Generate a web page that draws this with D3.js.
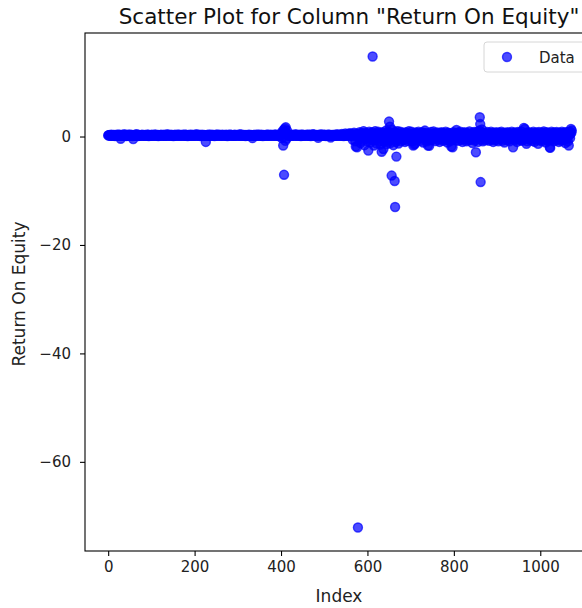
<!DOCTYPE html>
<html><head><meta charset="utf-8">
<script src="https://cdn.jsdelivr.net/npm/d3@7"></script>
<style>body{margin:0;background:#fff}svg{display:block;font-family:"DejaVu Sans",sans-serif}</style>
</head><body><svg id="c" width="582" height="608"></svg>
<script>
// Return On Equity values, one per row index (0..1073)
const valuesA = [
0.21,0.25,0.18,0.3,0.22,0.15,0.27,0.2,0.33,0.12,0.24,0.19,0.28,0.16,0.31,0.22,0.09,0.26,0.2,0.35,
0.17,0.23,0.29,0.14,0.21,0.38,0.2,0.11,0.25,-0.42,0.18,0.27,0.22,0.3,0.13,0.24,0.19,0.41,0.16,0.23,
0.28,0.2,0.07,0.25,0.32,0.18,0.22,0.15,0.29,0.21,0.36,0.12,0.24,0.19,0.27,0.23,0.1,0.3,-0.48,0.2,
0.26,0.17,0.33,0.21,0.14,0.25,0.45,0.19,0.23,0.08,0.28,0.22,0.16,0.3,0.2,0.24,0.13,0.27,0.21,0.34,
0.18,0.25,0.11,0.29,0.22,0.16,0.31,0.2,0.26,0.14,0.23,0.37,0.19,0.28,0.1,0.24,0.21,0.3,0.15,0.22,
0.27,0.19,0.33,0.12,0.25,0.2,0.29,0.17,0.23,0.4,0.21,0.14,0.26,0.18,0.31,0.22,0.09,0.28,0.2,0.24,
0.16,0.3,0.22,0.35,0.13,0.25,0.19,0.27,0.21,0.11,0.32,0.18,0.24,0.2,0.29,0.15,0.26,0.43,0.22,0.17,
0.28,0.21,0.12,0.25,0.19,0.34,0.23,0.16,0.3,0.2,0.26,0.08,0.24,0.18,0.32,0.22,0.27,0.14,0.21,0.29,
0.19,0.25,0.38,0.16,0.23,0.28,0.11,0.21,0.3,0.2,0.25,0.17,0.33,0.22,0.13,0.27,0.19,0.24,0.36,0.2,
0.15,0.29,0.22,0.26,0.1,0.31,0.18,0.24,0.21,0.35,0.14,0.27,0.2,0.23,0.32,0.17,0.25,0.12,0.28,0.22,
0.19,0.3,0.16,0.24,0.41,0.21,0.27,0.13,0.25,0.2,0.33,0.18,0.22,0.29,0.09,0.26,0.21,0.34,0.17,0.23,
0.28,0.2,0.14,0.31,0.22,0.25,-1.0,0.19,0.27,0.16,0.3,0.21,0.24,0.12,0.36,0.2,0.26,0.18,0.29,0.23,
0.15,0.32,0.21,0.25,0.19,0.28,0.1,0.24,0.3,0.2,0.17,0.27,0.39,0.22,0.14,0.26,0.21,0.33,0.18,0.24,
0.29,0.12,0.23,0.27,0.2,0.35,0.16,0.25,0.21,0.3,0.13,0.28,0.22,0.19,0.32,0.24,0.08,0.26,0.2,0.29,
0.17,0.23,0.37,0.21,0.26,0.14,0.3,0.19,0.25,0.22,0.11,0.28,0.2,0.34,0.16,0.24,0.27,0.21,0.13,0.31,
0.22,0.26,0.18,0.29,0.2,0.42,0.15,0.24,0.28,0.19,0.33,0.12,0.25,0.21,0.3,0.17,0.23,0.27,0.1,0.26,
0.2,0.31,0.16,0.24,0.28,0.22,0.35,0.13,0.27,0.19,0.25,0.3,0.18,0.23,-0.3,0.21,0.29,0.15,0.26,0.22,
0.33,0.19,0.24,0.11,0.28,0.21,0.26,0.38,0.17,0.23,0.3,0.2,0.14,0.27,0.22,0.32,0.18,0.25,0.09,0.29,
0.21,0.26,0.16,0.31,0.23,0.19,0.28,0.13,0.25,0.36,0.2,0.24,0.29,0.15,0.22,0.27,0.18,0.33,0.21,0.25,
0.12,0.3,0.2,0.26,0.17,0.23,0.4,0.21,0.28,0.14,0.25,0.19,0.32,0.22,0.27,0.1,0.24,0.29,0.18,0.35
];
const valuesB = [
0.26,0.5,-0.3,0.9,0.6,-1.66,1.2,-7.06,0.4,1.5,-0.8,1.7,0.7,-0.4,1.1,0.3,0.2,0.25,0.18,0.3
];
const valuesC = [
0.24,0.19,0.31,0.22,0.15,0.28,0.2,0.35,0.13,0.26,0.21,0.3,0.17,0.24,0.43,0.2,0.27,0.11,0.25,0.22,
0.29,0.16,0.23,0.33,0.19,0.26,0.08,0.28,0.21,0.37,0.14,0.25,0.2,0.31,0.18,0.24,0.27,0.12,0.3,0.22,
0.18,0.26,0.39,0.2,0.24,0.15,0.29,0.22,0.32,0.1,0.25,0.19,0.28,0.23,0.45,0.16,0.27,0.21,0.34,0.2,
0.25,0.13,0.3,0.22,0.18,0.27,-0.25,0.24,0.31,0.19,0.26,0.4,0.15,0.23,0.29,0.2,0.36,0.12,0.25,0.21,
0.28,0.17,0.33,0.22,0.09,0.26,0.2,0.3,0.16,0.24,0.38,0.21,0.27,0.14,0.25,-0.2,0.31,0.19,0.23,0.28,
0.15,0.26,0.21,0.35,0.18,0.24,0.29,0.11,0.27,0.2,0.42,0.23,0.16,0.3,0.22,0.25,0.13,0.33,0.19,0.26,
0.21,0.48,0.17,0.28,0.24,0.1,0.31,0.2,0.26,0.55,0.15,0.23,0.29,0.19,0.36,0.22,0.5,0.27,0.12,0.25,
0.62,0.2,0.3,0.16,0.45,0.24,-0.6,0.28,0.18,0.7,0.33,0.25,-0.9,-1.85,0.2,0.52,-1.97,0.3,-72.1,0.15
];
const valuesD = [
0.3,-0.5,0.8,0.2,-1.2,0.5,0.1,-0.8,0.6,0.25,-0.3,1.0,0.15,-1.6,0.4,0.2,0.7,-0.4,0.3,0.1,
-0.9,0.5,-2.6,0.2,0.9,-0.3,0.35,-1.1,0.6,0.1,-0.5,0.8,14.75,0.25,-0.7,-1.65,0.45,0.1,1.0,-0.2,
0.3,-1.3,0.6,0.15,-0.4,0.9,0.2,-0.8,0.5,0.05,-1.5,0.35,0.7,-2.8,0.2,-0.3,0.8,-2.3,0.1,-1.0,
0.5,0.25,-0.6,1.1,0.3,-1.4,0.6,-0.2,0.9,0.4,2.76,-0.8,1.8,-1.2,0.7,0.1,-7.2,-0.5,1.2,0.3,
-1.6,0.6,-0.3,-8.2,-13.0,0.8,-1.0,-3.7,0.4,-0.6,1.0,0.2,-1.3,0.5,0.1,-0.4,0.9,0.3,-0.9,0.2
];
const valuesE = [
0.4,-0.2,0.7,0.1,-0.6,0.5,0.25,-1.0,0.3,0.8,-0.3,0.15,0.6,-0.8,0.35,0.05,1.0,-0.4,0.2,0.5,
-0.7,0.3,0.9,-0.1,0.45,-0.9,-1.66,0.2,-1.5,0.6,-1.35,0.1,0.75,-0.3,0.35,0.55,-0.6,0.2,0.9,0.05,
-0.4,0.5,0.3,-0.8,0.65,0.15,-0.2,0.8,0.4,-1.1,0.25,0.6,-0.5,1.1,0.2,-0.3,0.7,0.1,-0.9,0.45,
-1.66,0.3,-0.6,-1.7,0.55,0.2,-0.2,0.85,0.1,-0.7,0.4,0.25,-0.4,0.95,0.15,-0.1,0.6,0.3,-0.85,0.5,
0.2,-0.3,0.75,0.05,-0.6,0.45,0.3,-1.0,0.6,0.15,-0.2,0.8,0.35,-0.5,0.25,0.65,-0.8,0.1,0.5,-0.3,
0.4,0.9,-0.6,0.2,0.55,-1.1,0.3,0.7,-0.2,0.15,0.6,-0.9,0.35,0.05,-1.85,0.45,-0.4,-1.97,0.25,0.8,
-0.5,0.3,0.6,-0.1,0.4,-0.7,1.2,0.2,-0.3,0.75,0.1,-0.8,0.5,0.3,-0.2,0.9,0.15,-0.6,0.45,0.25,
-1.0,0.6,0.35,-0.3,0.8,0.1,-0.5,0.5,0.2,-0.9,0.7,0.3,-0.2,0.55,-0.7,0.15,0.95,-0.4,0.4,0.25,
-0.6,0.5,0.1,-1.2,0.7,0.3,-0.3,0.85,0.2,-0.8,0.45,-2.9,0.6,-0.4,0.25,0.9,-1.0,0.35,0.75,1.1,
3.56,2.3,-8.4,0.5,-0.6,1.3,0.2,-0.9,0.4,0.7,-0.3,0.15,0.6,-0.7,0.3,0.5,-0.2,0.85,0.1,-0.5,
0.45,0.25,-0.8,0.65,0.3,-0.3,0.9,0.1,-0.6,0.5,0.35,-1.0,0.7,0.2,-0.4,0.55,0.05,-0.7,0.8,0.3,
-0.2,0.45,0.6,-0.9,0.25,0.75,-0.5,0.15,0.5,-0.3,0.9,0.35,-0.8,0.2,0.6,-0.1,0.4,-1.1,0.7,0.25,
-0.4,0.55,0.1,-0.7,0.8,0.3,-0.2,0.45,0.65,-0.9,0.2,0.5,-0.5,0.35,0.9,-0.3,0.15,-2.0,0.6,0.25,
-0.6,0.75,0.3,-0.2,0.5,0.1,-1.0,0.4,0.85,-0.4,0.2,0.6,-0.7,0.35,0.55,-0.3,0.95,0.15,-0.8,0.45,
0.25,-0.5,1.6,0.3,1.4,-0.2,0.6,0.1,-1.35,0.7,-0.9,0.4,0.2,-0.4,0.8,0.3,-0.6,0.5,0.15,-0.3,
0.65,0.35,-0.8,0.45,0.9,-0.2,0.25,-1.0,0.6,0.1,-0.5,0.75,0.3,-0.3,0.5,-1.35,0.2,0.85,-0.7,0.4,
0.3,-0.4,0.6,0.15,-0.9,0.7,0.25,-0.2,0.95,0.4,-0.6,0.5,0.1,-1.1,0.35,0.8,-0.3,0.2,0.65,-0.8,
0.45,0.3,-2.0,-2.1,0.55,-0.5,0.9,0.2,-0.2,0.6,0.35,-0.9,0.75,0.1,-0.4,0.5,0.3,-0.7,0.85,0.25,
-0.3,0.6,0.15,-1.0,0.45,0.7,-0.5,0.35,0.2,-0.8,0.9,0.3,-0.2,0.55,0.1,-0.6,0.75,0.4,-1.2,0.5,
0.25,-0.4,0.85,0.3,-0.9,0.6,-1.66,0.2,0.95,-0.3,0.5,1.4,0.7,1.1
];
const xTicks = [0, 200, 400, 600, 800, 1000];
const yTicks = [0, -20, -40, -60];
const titleText = 'Scatter Plot for Column "Return On Equity"';
const xLabel = 'Index';
const yLabel = 'Return On Equity';
const seriesName = 'Data';

const values = [].concat(valuesA, valuesB, valuesC, valuesD, valuesE);
const data = values.map((v, i) => ({ i, v }));

const L = 85, T = 33, R = 595, B = 551;
const n = values.length - 1;
const x = d3.scaleLinear().domain([-0.05 * n, 1.05 * n]).range([L, R]);
const [ymin, ymax] = d3.extent(values);
const pad = 0.05 * (ymax - ymin);
const y = d3.scaleLinear().domain([ymin - pad, ymax + pad]).range([B, T]);

const svg = d3.select('#c');
const fs = 15;
const blue = 'rgba(0,0,255,0.7)';

svg.append('g').selectAll('circle').data(data).join('circle')
  .attr('cx', d => x(d.i)).attr('cy', d => y(d.v)).attr('r', 4.5)
  .attr('fill', blue).attr('stroke', blue).attr('stroke-width', 1.39);

const fmt = d3.format('');
const xa = svg.append('g').attr('transform', `translate(0,${B})`)
  .call(d3.axisBottom(x).tickValues(xTicks).tickFormat(fmt).tickSize(5).tickPadding(5));
const ya = svg.append('g').attr('transform', `translate(${L},0)`)
  .call(d3.axisLeft(y).tickValues(yTicks).tickFormat(fmt).tickSize(5).tickPadding(9));
[xa, ya].forEach(a => {
  a.select('.domain').remove();
  a.selectAll('line').attr('stroke', '#000').attr('stroke-width', 1.1);
  a.selectAll('text').attr('fill', '#222').style('font-size', fs + 'px').style('font-family', '"DejaVu Sans",sans-serif');
});

svg.append('rect').attr('x', L).attr('y', T).attr('width', R - L).attr('height', B - T)
  .attr('fill', 'none').attr('stroke', '#000').attr('stroke-width', 1.1);

svg.append('text').attr('x', 349).attr('y', 24).attr('text-anchor', 'middle')
  .style('font-size', '21.5px').attr('fill', '#111').text(titleText);
svg.append('text').attr('x', (L + R) / 2 - 1).attr('y', 602).attr('text-anchor', 'middle')
  .style('font-size', '17px').attr('fill', '#222').text(xLabel);
svg.append('text').attr('transform', `translate(25,${(T + B) / 2 + 2}) rotate(-90)`).attr('text-anchor', 'middle')
  .style('font-size', '17px').attr('fill', '#222').text(yLabel);

const lg = svg.append('g');
lg.append('rect').attr('x', 484).attr('y', 42).attr('width', 104).attr('height', 30).attr('rx', 3)
  .attr('fill', 'rgba(255,255,255,0.8)').attr('stroke', '#d6d6d6').attr('stroke-width', 1);
lg.append('circle').attr('cx', 507).attr('cy', 57).attr('r', 4.5)
  .attr('fill', blue).attr('stroke', blue).attr('stroke-width', 1.39);
lg.append('text').attr('x', 539).attr('y', 62.5).style('font-size', fs + 'px').attr('fill', '#222').text(seriesName);
</script></body></html>
